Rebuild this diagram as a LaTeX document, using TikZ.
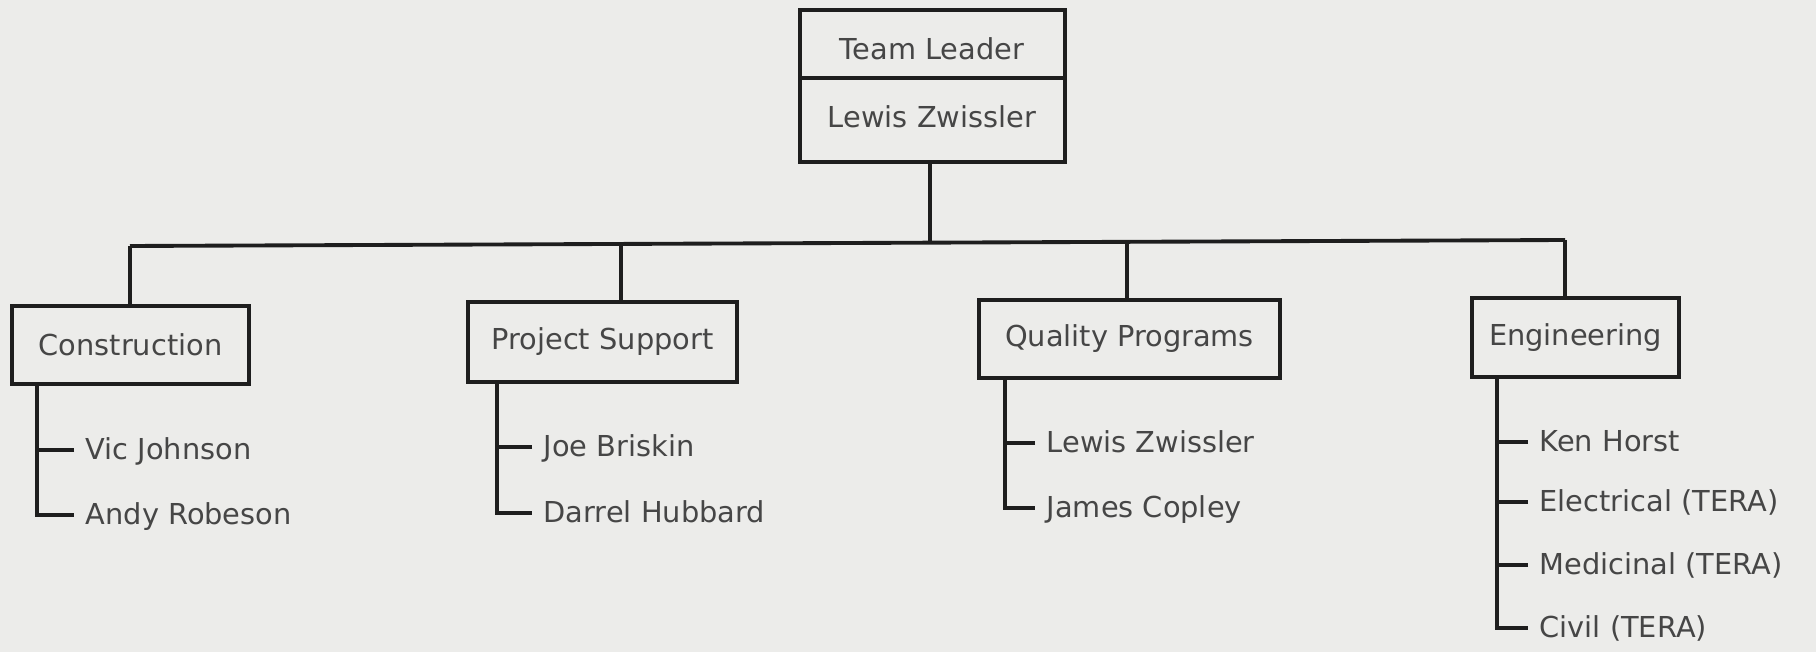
\documentclass[tikz,border=0pt]{standalone}
\usepackage{fontspec}
\setmainfont{DejaVu Sans}
\begin{document}
\begin{tikzpicture}[x=0.01cm,y=-0.01cm,
  line/.style={draw=lineC,line width=1.1pt},
  box/.style={line,rectangle,inner sep=0pt,text=txtC,font=\fontsize{8.2}{10}\selectfont},
  label/.style={anchor=west,inner xsep=0.11cm,inner ysep=0pt,text=txtC,font=\fontsize{8.2}{10}\selectfont,text height=0.72em,text depth=0.2em},
  title/.style={inner sep=0pt,text=txtC,font=\fontsize{8.2}{10}\selectfont,text height=0.72em,text depth=0.2em}]
\definecolor{bgC}{RGB}{236,236,234}
\definecolor{lineC}{RGB}{30,30,30}
\definecolor{txtC}{RGB}{70,70,70}
\fill[bgC] (0,0) rectangle (1816,652);
\useasboundingbox (0,0) rectangle (1816,652);

% top box
\node[box,minimum width=2.65cm,minimum height=1.52cm] (lead) at (932.5,86) {};
\draw[line] (lead.west |- 0,78) -- (lead.east |- 0,78);
\node[title] (leadT) at (932,50) {Team Leader};
\node[title] (leadN) at (932,118) {Lewis Zwissler};

% department boxes
\node[box,minimum width=2.37cm,minimum height=0.78cm] (cons) at (130.5,345) {Construction};
\node[box,minimum width=2.69cm,minimum height=0.80cm] (proj) at (602.5,342) {Project Support};
\node[box,minimum width=3.01cm,minimum height=0.78cm] (qual) at (1129.5,339) {Quality Programs};
\node[box,minimum width=2.07cm,minimum height=0.79cm] (eng) at (1575.5,337.5) {Engineering};

% bus
\coordinate (b1) at (130,246);
\coordinate (b2) at (621,244);
\coordinate (b3) at (1127,242);
\coordinate (b4) at (1565,240);
\coordinate (bc) at (930,243);
\draw[line] (b1) -- (b4);
\draw[line] (lead.south -| bc) -- (bc);
\draw[line] (b1) -- (cons.north -| b1);
\draw[line] (b2) -- (proj.north -| b2);
\draw[line] (b3) -- (qual.north -| b3);
\draw[line] (b4) -- (eng.north -| b4);

% Construction members
\node[label] (vic) at (74,450) {Vic Johnson};
\node[label] (andy) at (74,515) {Andy Robeson};
\coordinate (cs) at (37,384);
\draw[line] (cs) |- (andy.west);
\draw[line] (vic.west) -- (vic.west -| cs);

% Project Support members
\node[label] (joe) at (532,447) {Joe Briskin};
\node[label] (darrel) at (532,513) {Darrel Hubbard};
\coordinate (ps) at (497,382);
\draw[line] (ps) |- (darrel.west);
\draw[line] (joe.west) -- (joe.west -| ps);

% Quality Programs members
\node[label] (lewis) at (1035,443) {Lewis Zwissler};
\node[label] (james) at (1035,508) {James Copley};
\coordinate (qs) at (1005,378);
\draw[line] (qs) |- (james.west);
\draw[line] (lewis.west) -- (lewis.west -| qs);

% Engineering members
\node[label] (ken) at (1528,442) {Ken Horst};
\node[label] (elec) at (1528,502) {Electrical (TERA)};
\node[label] (med) at (1528,565) {Medicinal (TERA)};
\node[label] (civil) at (1528,628) {Civil (TERA)};
\coordinate (es) at (1497,377);
\draw[line] (es) |- (civil.west);
\draw[line] (ken.west) -- (ken.west -| es);
\draw[line] (elec.west) -- (elec.west -| es);
\draw[line] (med.west) -- (med.west -| es);
\end{tikzpicture}
\end{document}
